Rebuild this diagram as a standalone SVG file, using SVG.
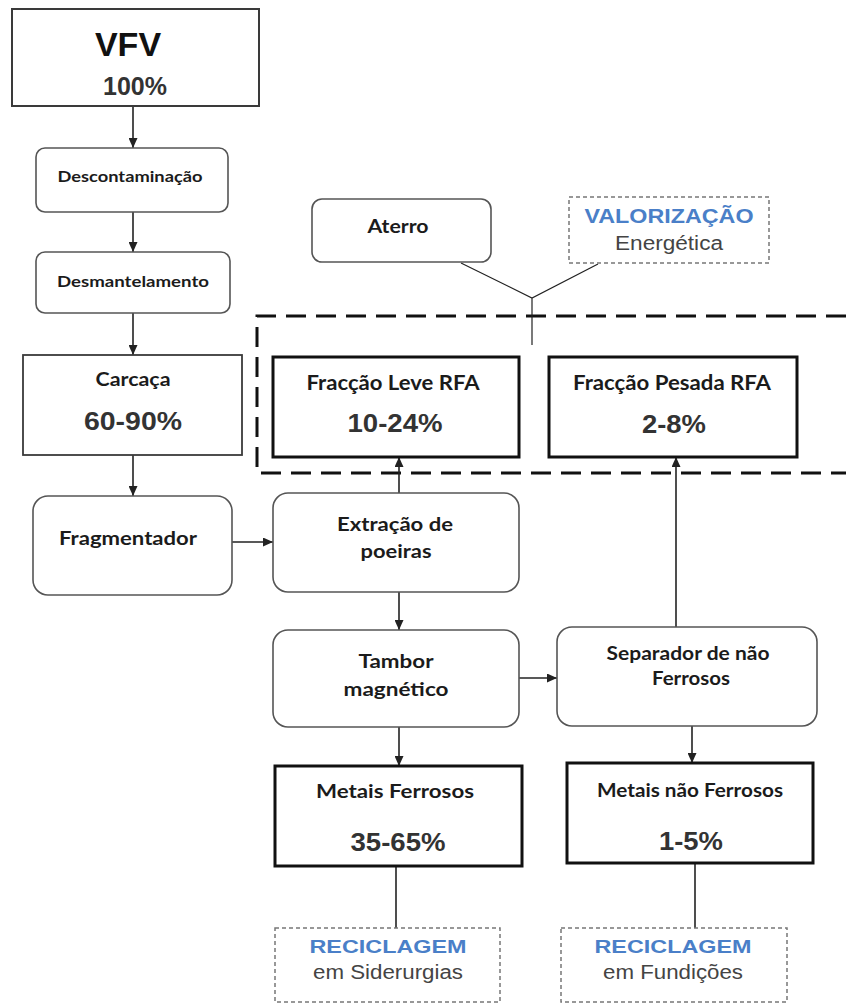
<svg xmlns="http://www.w3.org/2000/svg" width="846" height="1004" viewBox="0 0 846 1004">
  <style>
    .plain { fill: #fff; stroke: #3a3a3a; stroke-width: 2; }
    .round { fill: #fff; stroke: #555; stroke-width: 1.6; }
    .heavy { fill: #fff; stroke: #111; stroke-width: 3; }
    .dash  { fill: #fff; stroke: #777; stroke-width: 1.5; stroke-dasharray: 4 3; }
    .lbl   { font-family: Lato, "Open Sans", "Liberation Sans", sans-serif; font-weight: bold; fill: #1b1b1b; text-anchor: middle; }
    .pct   { font-family: "Liberation Sans", Arial, sans-serif; font-weight: bold; fill: #333; text-anchor: middle; }
    .blue  { font-family: "Liberation Sans", Arial, sans-serif; font-weight: bold; fill: #4a7fc8; text-anchor: middle; }
    .gray  { font-family: "Liberation Sans", Arial, sans-serif; fill: #444; text-anchor: middle; }
    .flow  { fill: none; stroke: #222; stroke-width: 1.6; }
    .thin  { fill: none; stroke: #222; stroke-width: 1.2; }
    .zone  { fill: none; stroke: #111; stroke-width: 3; stroke-dasharray: 20 10; }
  </style>
  <defs>
    <marker id="arrow" markerUnits="userSpaceOnUse" markerWidth="10" markerHeight="9" refX="10" refY="4.5" orient="auto">
      <path d="M0,0 L10,4.5 L0,9 z" fill="#222"/>
    </marker>
  </defs>

  <rect width="846" height="1004" fill="#fff"/>

  <!-- dashed zone around the shredder residue fractions -->
  <path class="zone" d="M846,316 H257 V473 H846"/>

  <g id="connectors">
    <line class="flow" x1="133" y1="107" x2="133" y2="148" marker-end="url(#arrow)"/>
    <line class="flow" x1="133" y1="212" x2="133" y2="252" marker-end="url(#arrow)"/>
    <line class="flow" x1="133" y1="313" x2="133" y2="355" marker-end="url(#arrow)"/>
    <line class="flow" x1="133" y1="455" x2="133" y2="496" marker-end="url(#arrow)"/>
    <line class="flow" x1="232" y1="542" x2="273" y2="542" marker-end="url(#arrow)"/>
    <line class="flow" x1="399" y1="493" x2="399" y2="457" marker-end="url(#arrow)"/>
    <line class="flow" x1="399" y1="592" x2="399" y2="630" marker-end="url(#arrow)"/>
    <line class="flow" x1="519" y1="678" x2="557" y2="678" marker-end="url(#arrow)"/>
    <line class="flow" x1="676" y1="627" x2="676" y2="457" marker-end="url(#arrow)"/>
    <line class="flow" x1="399" y1="727" x2="399" y2="766" marker-end="url(#arrow)"/>
    <line class="flow" x1="692" y1="726" x2="692" y2="763" marker-end="url(#arrow)"/>
    <line class="flow" x1="396" y1="866" x2="396" y2="928"/>
    <line class="flow" x1="695" y1="863" x2="695" y2="928"/>
    <path class="thin" d="M461,263 L532,298 L598,264 M532,298 V345"/>
  </g>

  <g id="vfv">
    <rect class="plain" x="12" y="9" width="247" height="97"/>
    <text class="pct" x="128" y="56" font-size="34" style="fill:#111">VFV</text>
    <text class="pct" x="135" y="95" font-size="25">100%</text>
  </g>

  <g id="descontaminacao">
    <rect class="round" x="36" y="148" width="192" height="64" rx="9"/>
    <text class="lbl" x="130" y="182" font-size="15" textLength="145" lengthAdjust="spacingAndGlyphs">Descontaminação</text>
  </g>

  <g id="desmantelamento">
    <rect class="round" x="36" y="252" width="194" height="61" rx="9"/>
    <text class="lbl" x="133" y="287" font-size="15" textLength="152" lengthAdjust="spacingAndGlyphs">Desmantelamento</text>
  </g>

  <g id="carcaca">
    <rect class="plain" x="23" y="355" width="219" height="100" style="stroke-width:1.8"/>
    <text class="lbl" x="133" y="386" font-size="19" textLength="75" lengthAdjust="spacingAndGlyphs">Carcaça</text>
    <text class="pct" x="133" y="430" font-size="25" textLength="98" lengthAdjust="spacingAndGlyphs">60-90%</text>
  </g>

  <g id="fragmentador">
    <rect class="round" x="33" y="496" width="199" height="99" rx="15"/>
    <text class="lbl" x="128" y="545" font-size="19" textLength="138" lengthAdjust="spacingAndGlyphs">Fragmentador</text>
  </g>

  <g id="extracao">
    <rect class="round" x="273" y="493" width="246" height="99" rx="15"/>
    <text class="lbl" x="395" y="531" font-size="19" textLength="116" lengthAdjust="spacingAndGlyphs">Extração de</text>
    <text class="lbl" x="396" y="558" font-size="19" textLength="71" lengthAdjust="spacingAndGlyphs">poeiras</text>
  </g>

  <g id="tambor">
    <rect class="round" x="273" y="630" width="246" height="97" rx="15"/>
    <text class="lbl" x="396" y="668" font-size="19" textLength="75" lengthAdjust="spacingAndGlyphs">Tambor</text>
    <text class="lbl" x="396" y="696" font-size="19" textLength="105" lengthAdjust="spacingAndGlyphs">magnético</text>
  </g>

  <g id="separador">
    <rect class="round" x="557" y="627" width="260" height="99" rx="15"/>
    <text class="lbl" x="688" y="660" font-size="18" textLength="163" lengthAdjust="spacingAndGlyphs">Separador de não</text>
    <text class="lbl" x="691" y="685" font-size="18" textLength="78" lengthAdjust="spacingAndGlyphs">Ferrosos</text>
  </g>

  <g id="aterro">
    <rect class="round" x="312" y="199" width="179" height="63" rx="10"/>
    <text class="lbl" x="398" y="233" font-size="19" textLength="61" lengthAdjust="spacingAndGlyphs">Aterro</text>
  </g>

  <g id="valorizacao">
    <rect class="dash" x="569" y="197" width="200" height="66"/>
    <text class="blue" x="669" y="223" font-size="20" textLength="169" lengthAdjust="spacingAndGlyphs">VALORIZAÇÃO</text>
    <text class="gray" x="669" y="250" font-size="20" textLength="108" lengthAdjust="spacingAndGlyphs">Energética</text>
  </g>

  <g id="fraccao-leve">
    <rect class="heavy" x="273" y="357" width="246" height="100"/>
    <text class="lbl" x="393" y="390" font-size="20" textLength="173" lengthAdjust="spacingAndGlyphs">Fracção Leve RFA</text>
    <text class="pct" x="395" y="432" font-size="25" textLength="95" lengthAdjust="spacingAndGlyphs">10-24%</text>
  </g>

  <g id="fraccao-pesada">
    <rect class="heavy" x="549" y="357" width="248" height="100"/>
    <text class="lbl" x="672" y="390" font-size="20" textLength="198" lengthAdjust="spacingAndGlyphs">Fracção Pesada RFA</text>
    <text class="pct" x="674" y="433" font-size="25" textLength="64" lengthAdjust="spacingAndGlyphs">2-8%</text>
  </g>

  <g id="metais-ferrosos">
    <rect class="heavy" x="275" y="766" width="247" height="100"/>
    <text class="lbl" x="395" y="798" font-size="19" textLength="158" lengthAdjust="spacingAndGlyphs">Metais Ferrosos</text>
    <text class="pct" x="398" y="851" font-size="25" textLength="95" lengthAdjust="spacingAndGlyphs">35-65%</text>
  </g>

  <g id="metais-nao-ferrosos">
    <rect class="heavy" x="567" y="763" width="246" height="100"/>
    <text class="lbl" x="690" y="797" font-size="18" textLength="186" lengthAdjust="spacingAndGlyphs">Metais não Ferrosos</text>
    <text class="pct" x="691" y="850" font-size="25" textLength="64" lengthAdjust="spacingAndGlyphs">1-5%</text>
  </g>

  <g id="reciclagem-siderurgias">
    <rect class="dash" x="275" y="928" width="225" height="74"/>
    <text class="blue" x="388" y="953" font-size="19" textLength="157" lengthAdjust="spacingAndGlyphs">RECICLAGEM</text>
    <text class="gray" x="388" y="979" font-size="20" textLength="150" lengthAdjust="spacingAndGlyphs">em Siderurgias</text>
  </g>

  <g id="reciclagem-fundicoes">
    <rect class="dash" x="561" y="928" width="226" height="74"/>
    <text class="blue" x="673" y="953" font-size="19" textLength="157" lengthAdjust="spacingAndGlyphs">RECICLAGEM</text>
    <text class="gray" x="673" y="979" font-size="20" textLength="140" lengthAdjust="spacingAndGlyphs">em Fundições</text>
  </g>
</svg>
